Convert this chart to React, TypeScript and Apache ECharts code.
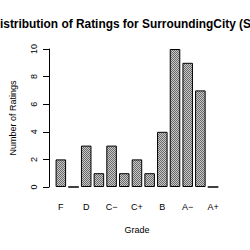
import React, { useEffect, useRef } from "react";
import * as echarts from "echarts";

const grades = ["F", "D−", "D", "D+", "C−", "C", "C+", "B−", "B", "B+", "A−", "A", "A+"];
const counts = [2, 0, 3, 1, 3, 1, 2, 1, 4, 10, 9, 7, 0];
const yTicks = [0, 2, 4, 6, 8, 10];
const titleText = "Distribution of Ratings for SurroundingCity (Survey)";

const FONT = "'Liberation Sans', Arial, Helvetica, sans-serif";

function makePattern(): HTMLCanvasElement {
  const c = document.createElement("canvas");
  c.width = 2;
  c.height = 2;
  const ctx = c.getContext("2d")!;
  ctx.fillStyle = "#c8c8c8";
  ctx.fillRect(0, 0, 2, 2);
  ctx.fillStyle = "#6a6a6a";
  ctx.fillRect(0, 0, 1, 1);
  ctx.fillRect(1, 1, 1, 1);
  return c;
}

export default function App() {
  const ref = useRef<HTMLDivElement>(null);
  useEffect(() => {
    if (!ref.current) return;
    const chart = echarts.init(ref.current, undefined, { renderer: "svg" });
    const pattern = makePattern();
    chart.setOption({
      animation: false,
      backgroundColor: "#ffffff",
      graphic: [
        {
          type: "text",
          x: -8.6,
          y: 24,
          style: {
            text: titleText,
            font: `bold 11.9px ${FONT}`,
            fill: "#000",
            textAlign: "left",
            textVerticalAlign: "middle",
          },
        },
      ],
      grid: { left: 54.5, right: 30.6, top: 49, bottom: 63, containLabel: false },
      xAxis: {
        type: "category",
        data: grades,
        boundaryGap: true,
        name: "Grade",
        nameLocation: "middle",
        nameGap: 38,
        nameTextStyle: { fontFamily: FONT, fontSize: 9, color: "#000" },
        axisLine: { show: false },
        axisTick: { show: false },
        axisLabel: {
          interval: 1,
          margin: 15,
          fontFamily: FONT,
          fontSize: 9,
          color: "#000",
        },
      },
      yAxis: {
        type: "value",
        min: 0,
        max: 10,
        interval: 2,
        offset: 5.5,
        name: "Number of Ratings",
        nameLocation: "middle",
        nameGap: 32,
        nameTextStyle: { fontFamily: FONT, fontSize: 9, color: "#000" },
        splitLine: { show: false },
        axisLine: { show: true, lineStyle: { color: "#000", width: 1 } },
        axisTick: { show: true, length: 6, lineStyle: { color: "#000" } },
        axisLabel: {
          rotate: 90,
          margin: 11,
          fontFamily: FONT,
          fontSize: 9,
          color: "#000",
          formatter: (v: number) => (yTicks.includes(v) ? String(v) : ""),
        },
      },
      series: [
        {
          type: "bar",
          data: counts,
          barCategoryGap: "17%",
          itemStyle: {
            color: { image: pattern, repeat: "repeat" },
            borderColor: "#000",
            borderWidth: 1,
          },
        },
      ],
    });
    return () => chart.dispose();
  }, []);
  return (
    <div style={{ position: "fixed", left: 0, top: 0, width: 250, height: 250, overflow: "hidden" }}>
      <div ref={ref} style={{ width: 250, height: 250, overflow: "hidden" }} />
    </div>
  );
}
